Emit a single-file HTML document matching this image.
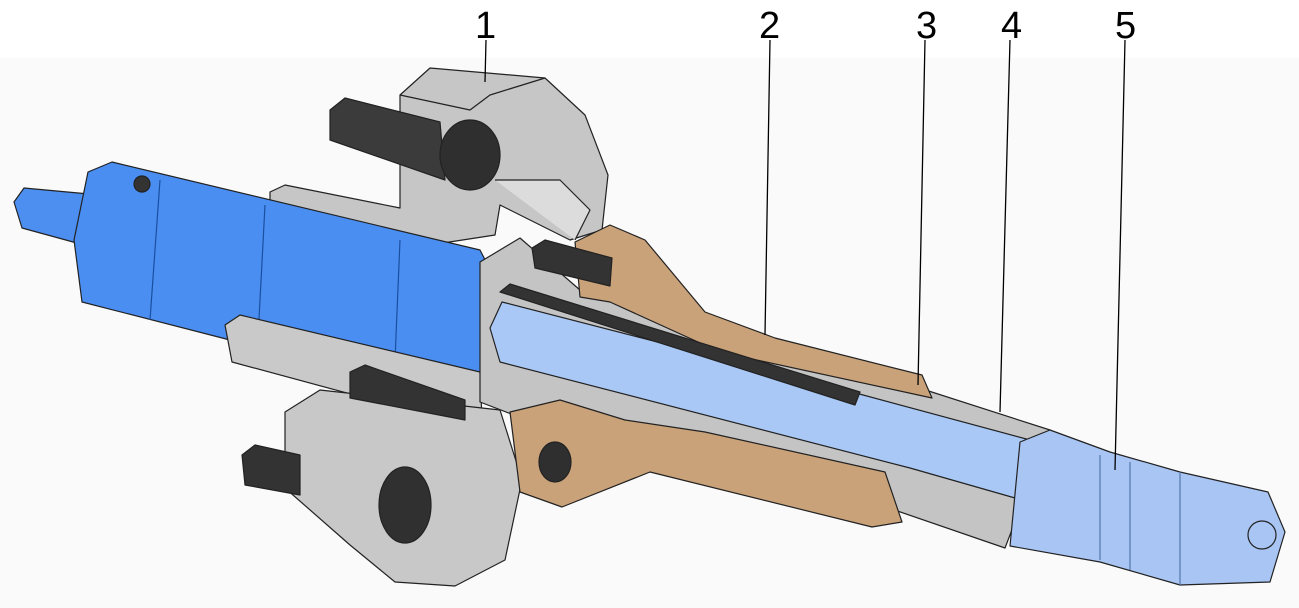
<!DOCTYPE html>
<html><head><meta charset="utf-8"><style>
html,body{margin:0;padding:0;background:#fff;}
svg{display:block;}
text{font-family:"Liberation Sans",sans-serif;font-size:38px;fill:#000;}
</style></head><body>
<svg width="1299" height="608" viewBox="0 0 1299 608" xmlns="http://www.w3.org/2000/svg">
<rect x="0" y="58" width="1299" height="550" fill="#fafafa"/>
<g stroke="#222" stroke-width="1.2" stroke-linejoin="round">
<path d="M400,95 L430,68 L545,78 L585,115 L608,175 L602,230 L570,240 L500,205 L495,235 L430,245 L270,212 L270,192 L285,185 L400,208 Z" fill="#c6c6c6"/>
<path d="M400,95 L470,110 L490,95 L545,78" fill="none"/>
<path d="M495,180 L560,180 L590,210 L575,240" fill="#dcdcdc"/>
<path d="M14,202 L24,188 L100,195 L95,248 L22,228 Z" fill="#4d8ff0"/>
<path d="M88,172 L112,162 L480,250 L498,285 L478,385 L230,340 L82,302 L74,240 Z" fill="#4a8ef2"/>
<path d="M160,180 L150,320 M265,205 L258,338 M400,240 L395,360" fill="none" stroke="#1a4fa0"/>
<circle cx="142" cy="184" r="8" fill="#333"/>
<path d="M330,110 L345,98 L440,122 L445,180 L330,140 Z" fill="#3b3b3b"/>
<ellipse cx="470" cy="155" rx="30" ry="35" fill="#2f2f2f"/>
<path d="M225,325 L240,315 L480,372 L482,420 L410,410 L232,362 Z" fill="#c9c9c9"/>
<path d="M480,262 L520,238 L580,290 L700,320 L910,385 L1050,430 L1005,548 L880,505 L620,425 L540,425 L480,402 Z" fill="#c4c4c4"/>
<path d="M285,412 L320,390 L500,410 L522,480 L505,560 L455,586 L395,582 L350,545 L285,488 Z" fill="#c8c8c8"/>
<ellipse cx="405" cy="505" rx="26" ry="38" fill="#303030"/>
<path d="M242,455 L255,445 L300,455 L300,495 L245,485 Z" fill="#333"/>
<path d="M350,372 L365,365 L465,400 L465,420 L350,398 Z" fill="#333"/>
<path d="M575,242 L610,225 L645,240 L705,312 L775,338 L922,375 L932,398 L720,352 L610,302 L580,297 Z" fill="#c9a27a"/>
<path d="M510,412 L560,400 L625,420 L705,432 L885,472 L902,522 L872,527 L650,472 L562,507 L520,492 Z" fill="#c9a27a"/>
<ellipse cx="555" cy="462" rx="16" ry="20" fill="#2f2f2f"/>
<path d="M490,328 L502,302 L852,392 L1030,440 L1015,498 L910,468 L500,362 Z" fill="#a9c8f5"/>
<path d="M500,292 L510,284 L860,392 L855,405 Z" fill="#333"/>
<path d="M532,248 L545,240 L612,258 L610,286 L535,268 Z" fill="#333"/>
<path d="M1020,442 L1050,430 L1110,452 L1180,472 L1268,492 L1285,532 L1270,582 L1180,585 L1100,562 L1010,546 Z" fill="#a8c5f3"/>
<path d="M1100,455 L1100,560 M1130,462 L1130,570 M1180,472 L1180,585" fill="none" stroke="#5577aa"/>
<circle cx="1262" cy="535" r="14" fill="none"/>
</g>
<g stroke="#000" stroke-width="1.3">
<line x1="486" y1="40" x2="485" y2="82"/>
<line x1="770" y1="40" x2="765" y2="335"/>
<line x1="925" y1="40" x2="918" y2="385"/>
<line x1="1010" y1="40" x2="1000" y2="412"/>
<line x1="1125" y1="40" x2="1115" y2="470"/>
</g>
<text x="475" y="38">1</text>
<text x="759" y="38">2</text>
<text x="916" y="38">3</text>
<text x="1001" y="38">4</text>
<text x="1115" y="38">5</text>
</svg>
</body></html>
